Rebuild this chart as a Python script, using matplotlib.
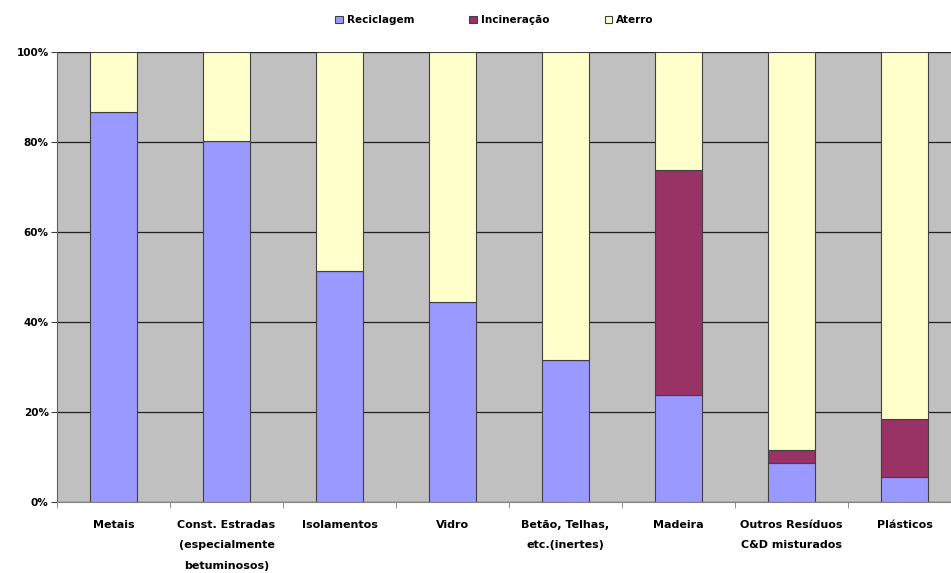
import numpy as np
import matplotlib.pyplot as plt
from matplotlib.ticker import FixedLocator, PercentFormatter

# Categorias e percentagens por destino
categorias = ["Metais", "Const. Estradas\n(especialmente\nbetuminosos)", "Isolamentos", "Vidro",
              "Betão, Telhas,\netc.(inertes)", "Madeira", "Outros Resíduos\nC&D misturados", "Plásticos"]
reciclagem = [86.7, 80.2, 51.3, 44.4, 31.6, 23.8, 8.7, 5.6]
incineracao = [0.0, 0.0, 0.0, 0.0, 0.0, 50.0, 2.9, 12.8]
aterro = [13.3, 19.8, 48.7, 55.6, 68.4, 26.2, 88.4, 81.6]

cores = ["#9999FF", "#993366", "#FFFFCC"]

plt.rcParams['font.family'] = ['DejaVu Sans']
fig = plt.figure(figsize=(9.51, 5.73), dpi=100)
ax = fig.add_axes([57 / 951, 1 - 502 / 573, 904 / 951, 450 / 573])
ax.set_facecolor("#C0C0C0")

x = np.arange(len(categorias))
rec = np.array(reciclagem)
inc = np.array(incineracao)
ate = np.array(aterro)
w = 0.415
ax.bar(x, rec, w, color=cores[0], edgecolor="#404040", linewidth=0.8, label="Reciclagem", zorder=3)
ax.bar(x, inc, w, bottom=rec, color=cores[1], edgecolor="#404040", linewidth=0.8, label="Incineração", zorder=3)
ax.bar(x, ate, w, bottom=rec + inc, color=cores[2], edgecolor="#404040", linewidth=0.8, label="Aterro", zorder=3)

ax.set_xlim(-0.5, len(categorias) - 0.5)
ax.set_ylim(0, 100)
ax.yaxis.set_major_locator(FixedLocator([0, 20, 40, 60, 80, 100]))
ax.yaxis.set_major_formatter(PercentFormatter(decimals=0))
ax.grid(axis="y", color="#202020", linewidth=0.9, zorder=1)

ax.set_xticks(x)
ax.set_xticklabels(categorias, fontsize=8, fontweight="bold", va="top", ha="center", linespacing=2.3)
ax.tick_params(axis="x", which="major", length=0, pad=13)
ax.set_xticks(np.arange(len(categorias) + 1) - 0.5, minor=True)
ax.tick_params(axis="x", which="minor", length=4, color="#808080", direction="out")
ax.tick_params(axis="y", length=4, color="#404040", labelsize=7.5, pad=2)
for lab in ax.get_yticklabels():
    lab.set_fontweight("bold")

for s in ["top", "right"]:
    ax.spines[s].set_visible(False)
ax.spines["left"].set_color("#606060")
ax.spines["bottom"].set_color("#808080")

leg = fig.legend(loc="upper center", bbox_to_anchor=(0.52, 0.99), ncol=3, frameon=False,
                 handlelength=0.7, handleheight=0.7, columnspacing=5.3,
                 handletextpad=0.4, prop={"weight": "bold", "size": 7.5})
for h in leg.legend_handles:
    h.set_edgecolor("#404040")

fig.savefig("out.png", dpi=100)
